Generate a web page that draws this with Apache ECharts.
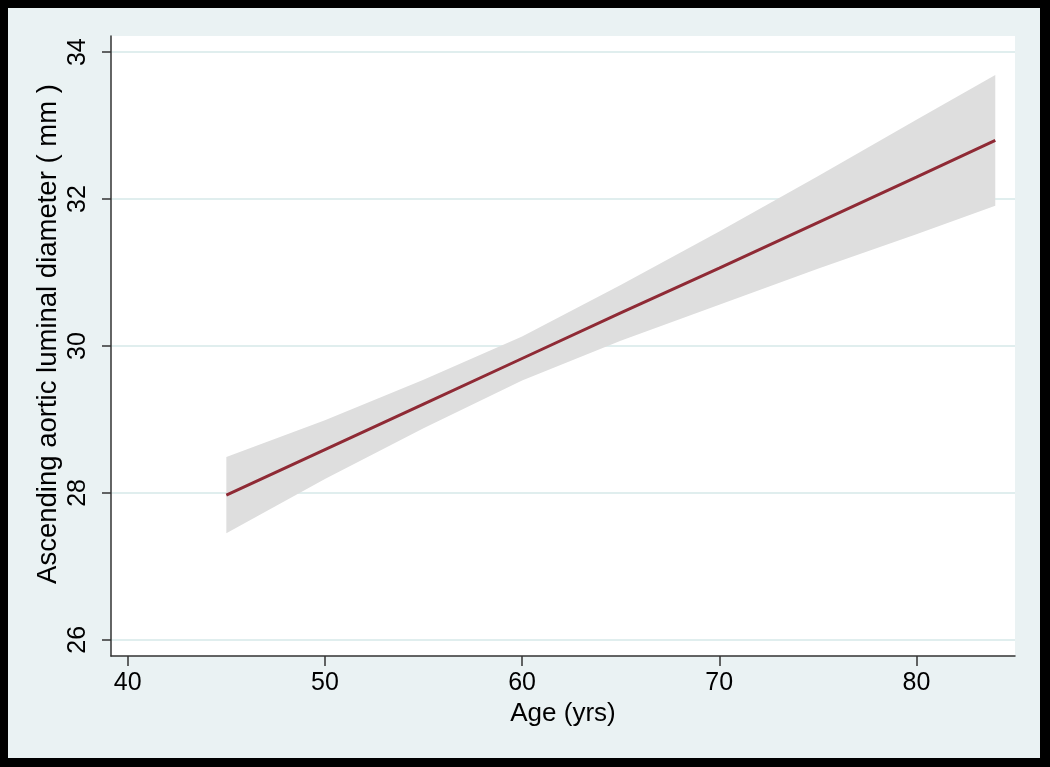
<!DOCTYPE html>
<html>
<head>
<meta charset="utf-8">
<title>Ascending aortic luminal diameter by age</title>
<script src="https://cdn.jsdelivr.net/npm/echarts@6/dist/echarts.min.js"></script>
<style>
html, body { margin: 0; padding: 0; background: #000; }
#chart { position: absolute; left: 8px; top: 8px; width: 1032px; height: 750px; }
</style>
</head>
<body>
<div id="chart"></div>
<script>
// values
const ages = [45, 50, 55, 60, 65, 70, 75, 80, 84]
const fitted = [27.97, 28.59, 29.21, 29.83, 30.45, 31.06, 31.68, 32.30, 32.80]
const lowerCI = [27.45, 28.19, 28.88, 29.53, 30.07, 30.56, 31.05, 31.52, 31.91]
const upperCI = [28.49, 28.99, 29.54, 30.13, 30.83, 31.56, 32.31, 33.08, 33.69]
const yTicks = [26, 28, 30, 32, 34]
const xTicks = [40, 50, 60, 70, 80]

const font = '"Liberation Sans", Arial, sans-serif'
const axisColor = '#333'

const chart = echarts.init(document.getElementById('chart'))

// confidence band: one polygon, upper edge left->right then lower edge back
const renderBand = (params, api) => {
  if (params.dataIndex !== 0) return
  const n = params.dataInsideLength
  const pts = []
  for (let i = 0; i < n; i++) pts.push(api.coord([api.value(0, i), api.value(2, i)]))
  for (let i = n - 1; i >= 0; i--) pts.push(api.coord([api.value(0, i), api.value(1, i)]))
  return {
    type: 'polygon',
    shape: { points: pts },
    style: { fill: '#dedede' }
  }
}

chart.setOption({
  backgroundColor: '#eaf2f3',
  animation: false,
  grid: {
    left: 103,
    top: 28,
    right: 25,
    bottom: 102,
    show: true,
    backgroundColor: '#fff',
    borderWidth: 0
  },
  xAxis: {
    type: 'value',
    min: 39.15,
    max: 85,
    name: 'Age (yrs)',
    nameLocation: 'middle',
    nameGap: 43,
    nameTextStyle: { fontFamily: font, fontSize: 26, color: '#000' },
    axisLine: { show: true, lineStyle: { color: axisColor, width: 1.5 } },
    axisTick: { show: true, length: 10, customValues: xTicks, lineStyle: { color: axisColor, width: 1.5 } },
    axisLabel: { customValues: xTicks, margin: 15, fontFamily: font, fontSize: 25, color: '#000' },
    splitLine: { show: false }
  },
  yAxis: {
    type: 'value',
    min: 25.78,
    max: 34.22,
    name: 'Ascending aortic luminal diameter ( mm )',
    nameLocation: 'middle',
    nameMoveOverlap: false,
    nameGap: 49,
    nameTextStyle: { fontFamily: font, fontSize: 27.5, color: '#000', padding: [0, 0, 0, 24] },
    axisLine: { show: true, lineStyle: { color: axisColor, width: 1.5 } },
    axisTick: { show: true, length: 9, customValues: yTicks, lineStyle: { color: axisColor, width: 1.5 } },
    axisLabel: { customValues: yTicks, rotate: 90, margin: 20, fontFamily: font, fontSize: 25, color: '#000' },
    splitLine: { show: true, lineStyle: { color: '#e0eeee', width: 2 } }
  },
  series: [
    {
      name: '95% CI',
      type: 'custom',
      renderItem: renderBand,
      encode: { x: 0, y: [1, 2] },
      data: ages.map((a, i) => [a, lowerCI[i], upperCI[i]])
    },
    {
      name: 'fitted',
      type: 'line',
      symbol: 'none',
      z: 5,
      lineStyle: { color: '#8f2a35', width: 3 },
      data: ages.map((a, i) => [a, fitted[i]])
    }
  ]
})

window.addEventListener('resize', () => chart.resize())
</script>
</body>
</html>
